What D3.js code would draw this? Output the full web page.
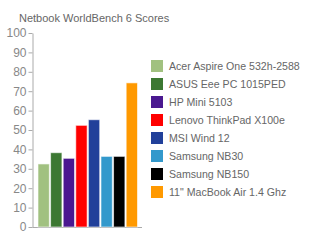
<!DOCTYPE html>
<html>
<head>
<meta charset="utf-8">
<script src="https://cdn.jsdelivr.net/npm/d3@7"></script>
<style>
  body { margin: 0; background: #fff; }
  text { font-family: "Liberation Sans", Arial, sans-serif; }
</style>
</head>
<body>
<div id="chart"></div>
<script>
  // Chart data
  const laptops = [
    'Acer Aspire One 532h-2588',
    'ASUS Eee PC 1015PED',
    'HP Mini 5103',
    'Lenovo ThinkPad X100e',
    'MSI Wind 12',
    'Samsung NB30',
    'Samsung NB150',
    '11" MacBook Air 1.4 Ghz'
  ];
  const scores = [32.5, 38.3, 35.4, 52.4, 55.3, 36.4, 36.4, 74.3];
  const colors = ['#a1c180', '#3c7832', '#4a1890', '#ff0000', '#21409a', '#3399cc', '#000000', '#ff9900'];
  const yTicks = [0, 10, 20, 30, 40, 50, 60, 70, 80, 90, 100];

  const width = 310, height = 240;

  const svg = d3.select('#chart')
    .append('svg')
    .attr('width', width)
    .attr('height', height);

  // Title
  svg.append('text')
    .attr('x', 19)
    .attr('y', 22)
    .attr('font-size', 11)
    .attr('fill', '#666')
    .text('Netbook WorldBench 6 Scores');

  const y = d3.scaleLinear().domain([0, 100]).range([227, 33]);
  const x = d3.scaleBand().domain(laptops).range([38, 137.5]).paddingInner(0.1).paddingOuter(0);

  // Y axis
  const yAxis = svg.append('g')
    .attr('transform', 'translate(32.5,0)')
    .call(d3.axisLeft(y).tickValues(yTicks).tickSize(4).tickSizeOuter(0).tickPadding(2));
  yAxis.select('.domain').attr('stroke', '#aaa');
  yAxis.selectAll('.tick line').attr('stroke', '#aaa');
  yAxis.selectAll('.tick text')
    .attr('fill', '#888')
    .attr('font-size', 12)
    .attr('font-family', '"Liberation Sans", Arial, sans-serif');

  // X axis line
  svg.append('line')
    .attr('x1', 32.5).attr('x2', 142)
    .attr('y1', y(0) + 0.5).attr('y2', y(0) + 0.5)
    .attr('stroke', '#aaa');

  // Bars
  svg.append('g')
    .selectAll('rect')
    .data(laptops)
    .enter()
    .append('rect')
    .attr('x', d => x(d))
    .attr('y', (d, i) => y(scores[i]))
    .attr('width', x.bandwidth())
    .attr('height', (d, i) => y(0) - y(scores[i]))
    .attr('fill', (d, i) => colors[i])
    .attr('stroke', '#fff')
    .attr('stroke-opacity', 0.6)
    .attr('stroke-width', 1);

  // Legend
  const legend = svg.append('g')
    .selectAll('g')
    .data(laptops)
    .enter()
    .append('g')
    .attr('transform', (d, i) => 'translate(151,' + (60 + i * 18) + ')');

  legend.append('rect')
    .attr('width', 12)
    .attr('height', 12)
    .attr('fill', (d, i) => colors[i]);

  legend.append('text')
    .attr('x', 18)
    .attr('y', 10)
    .attr('font-size', 10.6)
    .attr('fill', '#666')
    .text(d => d);
</script>
</body>
</html>
